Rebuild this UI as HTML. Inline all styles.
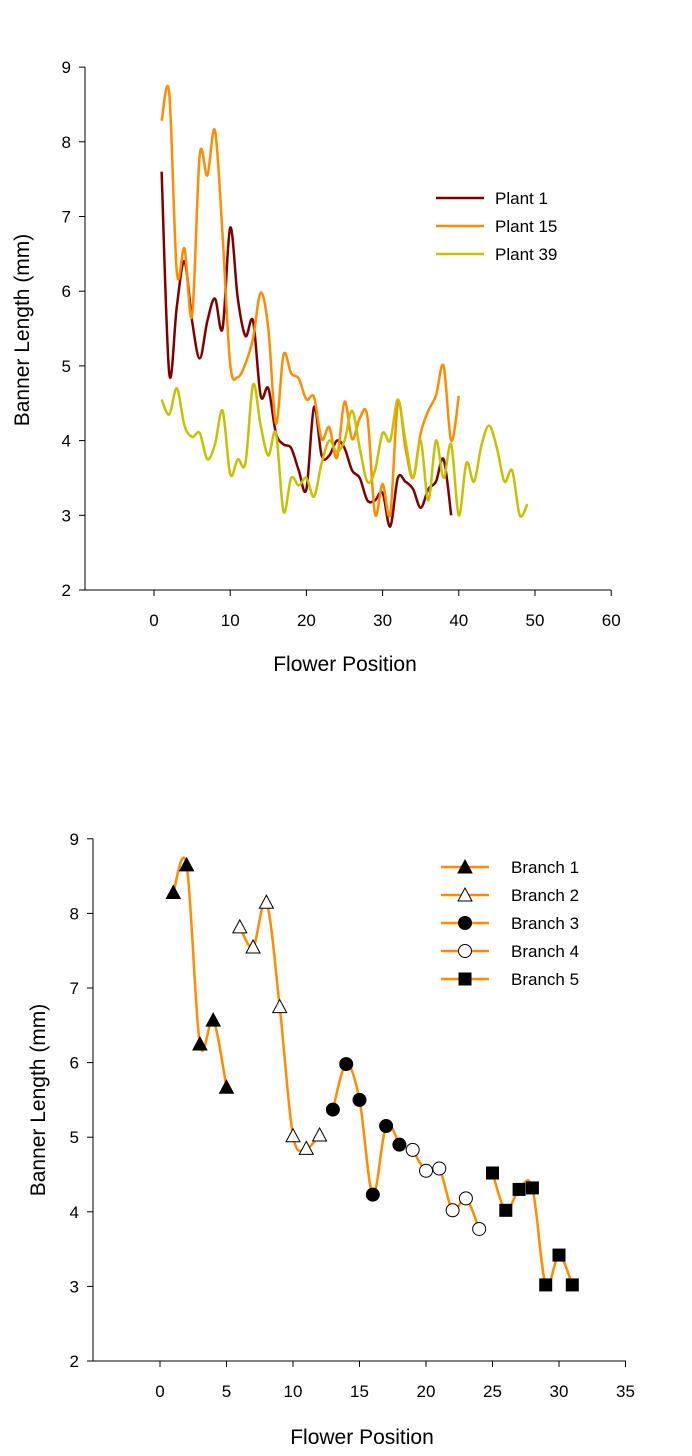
<!DOCTYPE html>
<html><head><meta charset="utf-8"><style>
body{margin:0;background:#fff}
svg{display:block;font-family:"Liberation Sans",Arial,sans-serif}
</style></head><body>
<svg id="svg" width="692" height="1456" viewBox="0 0 692 1456"></svg>
<script>
const plant1Values=[7.6,4.9,5.8,6.4,5.6,5.1,5.6,5.9,5.5,6.85,5.9,5.4,5.6,4.6,4.7,4.1,3.95,3.9,3.6,3.35,4.45,3.8,3.8,4.0,3.9,3.6,3.5,3.2,3.2,3.3,2.85,3.5,3.45,3.35,3.1,3.35,3.45,3.75,3.0];
const plant15Values=[8.28,8.65,6.25,6.57,5.67,7.82,7.55,8.15,6.75,5.02,4.85,5.03,5.37,5.98,5.5,4.23,5.15,4.9,4.83,4.55,4.58,4.02,4.18,3.77,4.52,4.02,4.3,4.32,3.02,3.42,3.02,4.5,3.9,3.5,4.1,4.4,4.6,5.0,4.0,4.6];
const plant39Values=[4.55,4.35,4.7,4.2,4.05,4.1,3.75,3.95,4.4,3.55,3.75,3.7,4.75,4.2,3.8,4.1,3.05,3.5,3.4,3.5,3.25,3.7,4.0,3.85,4.0,4.4,3.9,3.45,3.6,4.1,4.0,4.55,4.0,3.5,4.0,3.2,4.0,3.5,3.95,3.0,3.7,3.45,3.95,4.2,3.9,3.45,3.6,3.0,3.15];
const branchNames=["Branch 1","Branch 2","Branch 3","Branch 4","Branch 5"];
const branchStarts=[1,6,13,19,25];
const branchValues=[[8.28,8.65,6.25,6.57,5.67],[7.82,7.55,8.15,6.75,5.02,4.85,5.03],[5.37,5.98,5.5,4.23,5.15,4.9],[4.83,4.55,4.58,4.02,4.18,3.77],[4.52,4.02,4.3,4.32,3.02,3.42,3.02]];
const yTicks=[2,3,4,5,6,7,8,9];
const xTicksTop=[0,10,20,30,40,50,60];
const xTicksBot=[0,5,10,15,20,25,30,35];

const NS="http://www.w3.org/2000/svg";
const svg=document.getElementById('svg');
function mk(tag,attrs,parent){const e=document.createElementNS(NS,tag);for(const k in attrs)e.setAttribute(k,attrs[k]);(parent||svg).appendChild(e);return e;}
function spline(pts){let d=`M${pts[0][0]},${pts[0][1]}`;for(let i=0;i<pts.length-1;i++){const p0=pts[Math.max(0,i-1)],p1=pts[i],p2=pts[i+1],p3=pts[Math.min(pts.length-1,i+2)];const c1=[p1[0]+(p2[0]-p0[0])/6,p1[1]+(p2[1]-p0[1])/6],c2=[p2[0]-(p3[0]-p1[0])/6,p2[1]-(p3[1]-p1[1])/6];d+=` C${c1[0]},${c1[1]} ${c2[0]},${c2[1]} ${p2[0]},${p2[1]}`;}return d;}

function axes(cfg){
  const g=mk('g',{});
  
  
  mk('line',{x1:cfg.left,y1:cfg.y(9),x2:cfg.left,y2:cfg.y(2),stroke:'#000','stroke-width':1},g);
  mk('line',{x1:cfg.left,y1:cfg.y(2),x2:cfg.right,y2:cfg.y(2),stroke:'#000','stroke-width':1},g);
  yTicks.forEach(v=>{const y=cfg.y(v);mk('line',{x1:cfg.left-6,y1:y,x2:cfg.left,y2:y,stroke:'#000'},g);
    const t=mk('text',{x:cfg.left-14,y:y+6,'text-anchor':'end','font-size':17},g);t.textContent=v;
    
    });
  cfg.xt.forEach(v=>{const x=cfg.x(v);mk('line',{x1:x,y1:cfg.y(2),x2:x,y2:cfg.y(2)+6,stroke:'#000'},g);
    const t=mk('text',{x:x,y:cfg.y(2)+36,'text-anchor':'middle','font-size':17},g);t.textContent=v;
    
    });
  const xt=mk('text',{x:cfg.xtx,y:cfg.xty,'text-anchor':'middle','font-size':21},g);xt.textContent='Flower Position';
  
  
  const yt=mk('text',{x:0,y:0,'text-anchor':'middle','font-size':21,transform:`translate(${cfg.ytx},${cfg.yty}) rotate(-90)`},g);yt.textContent='Banner Length (mm)';
  
  
}

// Top chart
const tx=v=>154+v*7.62, ty=v=>590-(v-2)*74.7;
axes({name:'top',left:85,right:611,x:tx,y:ty,xt:xTicksTop,xtx:345,xty:671,ytx:29,yty:330});
const series=[[plant1Values,'#800000','Plant 1'],[plant15Values,'#ff8c00','Plant 15'],[plant39Values,'#c8c000','Plant 39']];
series.forEach((s,i)=>{
  const p=mk('path',{d:spline(s[0].map((v,j)=>[tx(j+1),ty(v)])),fill:'none',stroke:s[1],'stroke-width':2.5});
  
  
  const ly=198+i*28;
  const ll=mk('line',{x1:436,y1:ly,x2:484,y2:ly,stroke:s[1],'stroke-width':2.5});
  
  
  const lt=mk('text',{x:495,y:ly+6,'font-size':17});lt.textContent=s[2];
  
  
});

// Bottom chart
const bx=v=>160+v*13.3, by=v=>1361-(v-2)*74.6;
axes({name:'bottom',left:93,right:626,x:bx,y:by,xt:xTicksBot,xtx:362,xty:1444,ytx:45,yty:1100});
function marker(k,x,y,name){
  let e;
  if(k===0||k===1){e=mk('polygon',{points:`${x},${y-7} ${x+7},${y+6} ${x-7},${y+6}`,fill:k===0?'#000':'#fff',stroke:'#000','stroke-width':1});}
  else if(k===2||k===3){e=mk('circle',{cx:x,cy:y,r:6.5,fill:k===2?'#000':'#fff',stroke:'#000','stroke-width':1});}
  else {e=mk('rect',{x:x-6.5,y:y-6.5,width:13,height:13,fill:'#000'});}
  
  
}
branchValues.forEach((vals,k)=>{
  const pts=vals.map((v,j)=>[bx(branchStarts[k]+j),by(v)]);
  const p=mk('path',{d:spline(pts),fill:'none',stroke:'#ff8c00','stroke-width':2.5});
  
  
});
branchValues.forEach((vals,k)=>{
  vals.forEach((v,j)=>marker(k,bx(branchStarts[k]+j),by(v),'branch-'+(k+1)+'-point'));
  const ly=867+k*28;
  const ll=mk('line',{x1:441,y1:ly,x2:489,y2:ly,stroke:'#ff8c00','stroke-width':2.5});
  
  
  marker(k,465,ly,'legend-marker');
  const lt=mk('text',{x:511,y:ly+6,'font-size':17});lt.textContent=branchNames[k];
  
  
});
</script>
</body></html>
